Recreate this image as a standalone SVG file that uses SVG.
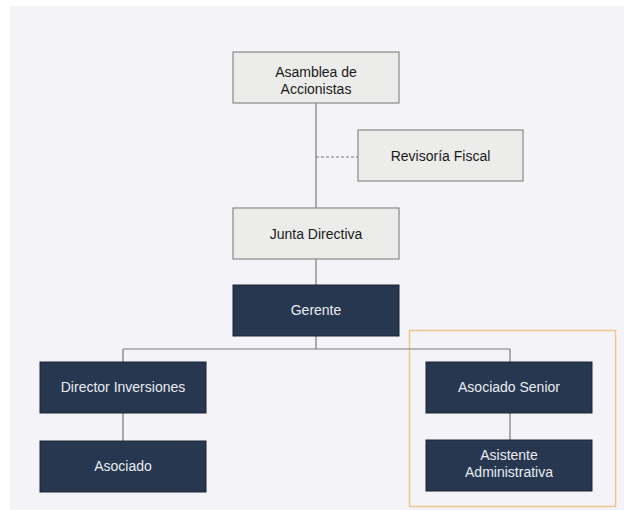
<svg xmlns="http://www.w3.org/2000/svg" width="624" height="510" viewBox="0 0 624 510">
<style>
.lt{fill:#ececea;stroke:#8a8a8a;stroke-width:1.2}
.dk{fill:#27374f;stroke:#1c2636;stroke-width:1}
.tl{font-family:"Liberation Sans",Arial,sans-serif;font-size:14px;fill:#1a1a1a;text-anchor:middle}
.td{font-family:"Liberation Sans",Arial,sans-serif;font-size:14px;fill:#e8ecf2;text-anchor:middle}
.ln{fill:none;stroke:#7a7a7a;stroke-width:1.2}
</style>
<rect x="10" y="6" width="614" height="504" fill="#f3f3f8"/>
<rect x="409.5" y="330.5" width="206" height="176" fill="none" stroke="#f3c594" stroke-width="1.5"/>
<g id="connectors">
<path class="ln" d="M316 103V208M316 259V285M316 336V349M123 349H510M123 349V362M510 349V362M123 413V441M510 413V440"/>
<path class="ln" d="M316 157H358" stroke-dasharray="3,2"/>
</g>
<g id="asamblea"><rect class="lt" x="233" y="52" width="166" height="51"/><text class="tl" x="316" y="77">Asamblea de</text><text class="tl" x="316" y="94">Accionistas</text></g>
<g id="revisoria"><rect class="lt" x="358" y="130" width="165" height="51"/><text class="tl" x="440.5" y="161">Revisoría Fiscal</text></g>
<g id="junta"><rect class="lt" x="233" y="208" width="166" height="51"/><text class="tl" x="316" y="239">Junta Directiva</text></g>
<g id="gerente"><rect class="dk" x="233" y="285" width="166" height="51"/><text class="td" x="316" y="315">Gerente</text></g>
<g id="director"><rect class="dk" x="40" y="362" width="166" height="51"/><text class="td" x="123" y="392">Director Inversiones</text></g>
<g id="asociado"><rect class="dk" x="40" y="441" width="166" height="51"/><text class="td" x="123" y="471">Asociado</text></g>
<g id="senior"><rect class="dk" x="426" y="362" width="166" height="51"/><text class="td" x="509" y="392">Asociado Senior</text></g>
<g id="asistente"><rect class="dk" x="426" y="440" width="166" height="51"/><text class="td" x="509" y="460">Asistente</text><text class="td" x="509" y="477">Administrativa</text></g>
</svg>
